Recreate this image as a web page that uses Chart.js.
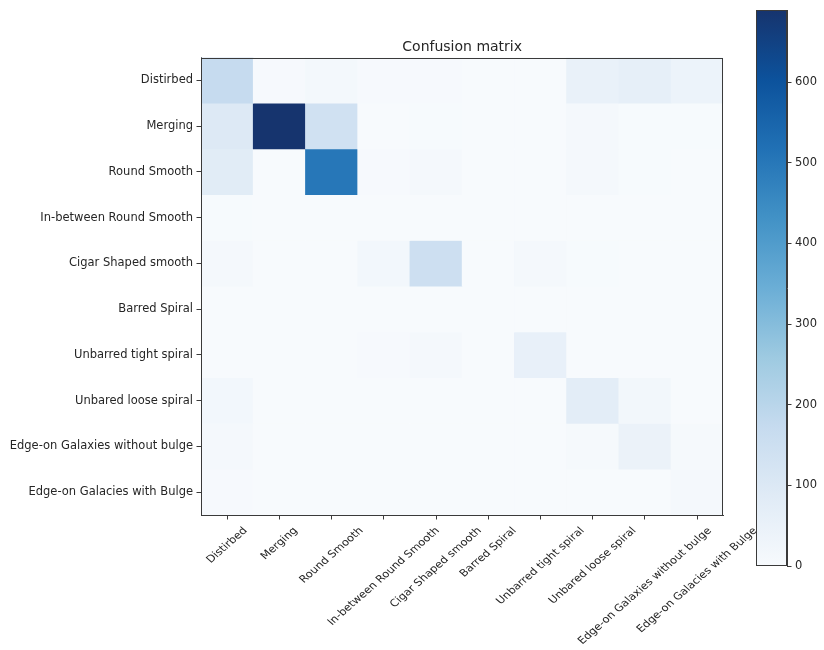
<!DOCTYPE html>
<html>
<head>
<meta charset="utf-8">
<title>Confusion matrix</title>
<script src="https://cdn.jsdelivr.net/npm/chart.js@4.4.1/dist/chart.umd.min.js"></script>
<style>
  html, body { margin: 0; padding: 0; background: #ffffff; }
  #wrap { position: relative; width: 824px; height: 650px; }
  #matrix { position: absolute; left: 0; top: 0; }
  #colorbar { position: absolute; left: 740px; top: 0; }
</style>
</head>
<body>
<div id="wrap">
  <canvas id="matrix" width="824" height="650"></canvas>
  <canvas id="colorbar" width="84" height="650"></canvas>
</div>
<script>
// Class names (true labels on rows, predicted labels on columns)
const classNames = [
  'Distirbed',
  'Merging',
  'Round Smooth',
  'In-between Round Smooth',
  'Cigar Shaped smooth',
  'Barred Spiral',
  'Unbarred tight spiral',
  'Unbared loose spiral',
  'Edge-on Galaxies without bulge',
  'Edge-on Galacies with Bulge'
];

// Counts per true class, one entry per predicted class
const rowDistirbed      = [172,   3,  14,  3,   5, 1,  1, 52, 62, 42];
const rowMerging        = [ 95, 689, 140,  1,   2, 1,  1, 12,  2,  2];
const rowRoundSmooth    = [ 82,   1, 500,  5,  10, 1,  1, 10,  2,  1];
const rowInBetween      = [  2,   0,   1,  0,   1, 0,  0,  1,  0,  0];
const rowCigar          = [ 12,   0,   1, 18, 150, 0, 12,  2,  0,  0];
const rowBarred         = [  0,   0,   0,  0,   0, 0,  0,  0,  0,  0];
const rowTightSpiral    = [  1,   0,   0,  5,  12, 0, 55,  1,  0,  0];
const rowLooseSpiral    = [ 18,   0,   0,  0,   1, 0,  1, 75, 20,  1];
const rowEdgeNoBulge    = [ 12,   0,   0,  0,   0, 0,  0,  8, 45,  8];
const rowEdgeBulge      = [  5,   0,   0,  0,   0, 0,  0,  1,  1, 12];

const counts = [
  rowDistirbed, rowMerging, rowRoundSmooth, rowInBetween, rowCigar,
  rowBarred, rowTightSpiral, rowLooseSpiral, rowEdgeNoBulge, rowEdgeBulge
];

// Colour scale range and colour bar tick values
const colorMax = 689;
const colorbarTicks = [0, 100, 200, 300, 400, 500, 600];

// "Blues" sequential colour ramp
const bluesStops = [
  [247, 250, 253], [224, 235, 246], [198, 219, 239], [158, 202, 225],
  [107, 174, 214], [66, 146, 198], [33, 113, 181], [12, 82, 156], [22, 52, 110]
];

function blues(t) {
  t = Math.max(0, Math.min(1, t));
  const pos = t * (bluesStops.length - 1);
  const i = Math.min(Math.floor(pos), bluesStops.length - 2);
  const f = pos - i;
  const a = bluesStops[i], b = bluesStops[i + 1];
  const c = a.map((v, k) => Math.round(v + (b[k] - v) * f));
  return `rgb(${c[0]},${c[1]},${c[2]})`;
}

const textColor = '#262626';
const axisColor = '#3a3a3a';
const tickFontSize = 11.5;
// Column labels use a slightly smaller face, widened horizontally
const columnFontSize = 10.1;
const columnStretch = 1.14;
Chart.defaults.font.family = "'DejaVu Sans', 'Liberation Sans', sans-serif";
Chart.defaults.color = textColor;

// Box around the plotting area
const framePlugin = {
  id: 'frame',
  afterDatasetsDraw(chart) {
    const { ctx, chartArea: a } = chart;
    ctx.save();
    ctx.strokeStyle = axisColor;
    ctx.lineWidth = 1;
    ctx.strokeRect(Math.round(a.left) + 0.5, Math.round(a.top) + 0.5,
                   Math.round(a.right - a.left) - 1, Math.round(a.bottom - a.top) - 1);
    ctx.restore();
  }
};

// Column labels rotated 45 degrees, each centred under its tick
const columnLabelPlugin = {
  id: 'columnLabels',
  afterDraw(chart) {
    const xs = chart.scales.x;
    const ctx = chart.ctx;
    const lineH = columnFontSize * 1.164;
    const top = chart.chartArea.bottom + 10;
    ctx.save();
    ctx.font = `${columnFontSize}px 'DejaVu Sans', sans-serif`;
    ctx.fillStyle = textColor;
    ctx.textAlign = 'center';
    ctx.textBaseline = 'middle';
    xs.ticks.forEach((t, i) => {
      const label = xs.getLabelForValue(t.value);
      const w = ctx.measureText(label).width;
      const half = (w + lineH) * Math.SQRT1_2 / 2;
      ctx.save();
      ctx.translate(xs.getPixelForTick(i), top + half);
      ctx.scale(columnStretch, 1);
      ctx.rotate(-Math.PI / 4);
      ctx.fillText(label, 0, 0);
      ctx.restore();
    });
    ctx.restore();
  }
};

// One floating-bar dataset per true class: each cell spans its row band
const datasets = counts.map((row, r) => ({
  label: classNames[r],
  data: row.map(() => [r - 0.5, r + 0.5]),
  backgroundColor: row.map(v => blues(v / colorMax)),
  borderWidth: 0,
  grouped: false,
  barPercentage: 1,
  categoryPercentage: 1
}));

new Chart(document.getElementById('matrix'), {
  type: 'bar',
  data: { labels: classNames, datasets },
  options: {
    responsive: false,
    animation: false,
    events: [],
    layout: { padding: { top: 0, left: 0, right: 100.7, bottom: 0 } },
    plugins: {
      legend: { display: false },
      tooltip: { enabled: false },
      title: {
        display: true,
        text: 'Confusion matrix',
        fullSize: false,
        color: textColor,
        font: { size: 14, weight: 'normal', lineHeight: 1.2 },
        padding: { top: 38.6, bottom: 2.1 }
      }
    },
    scales: {
      x: {
        type: 'category',
        offset: true,
        grid: { drawOnChartArea: false, offset: false, tickLength: 4.5, color: axisColor, tickColor: axisColor },
        border: { display: true, color: axisColor },
        ticks: { display: false, autoSkip: false },
        afterFit: s => { s.height = 135; }
      },
      y: {
        type: 'linear',
        reverse: true,
        min: -0.5,
        max: 9.5,
        afterBuildTicks: s => { s.ticks = classNames.map((_, i) => ({ value: i })); },
        afterFit: s => { s.width = 201; },
        grid: { drawOnChartArea: false, tickLength: 4.5, color: axisColor, tickColor: axisColor },
        border: { display: true, color: axisColor },
        ticks: {
          autoSkip: false,
          padding: 3.5,
          color: textColor,
          font: { size: tickFontSize },
          callback: v => classNames[v]
        }
      }
    }
  },
  plugins: [framePlugin, columnLabelPlugin]
});

// Colour bar: one bar spanning the full range, filled with the ramp
new Chart(document.getElementById('colorbar'), {
  type: 'bar',
  data: {
    labels: [''],
    datasets: [{
      data: [[0, colorMax]],
      backgroundColor: (c) => {
        const chart = c.chart;
        if (!chart.chartArea) return 'rgb(247,250,253)';
        const y = chart.scales.y;
        const g = chart.ctx.createLinearGradient(0, y.getPixelForValue(0), 0, y.getPixelForValue(colorMax));
        bluesStops.forEach((s, i) => g.addColorStop(i / (bluesStops.length - 1), `rgb(${s[0]},${s[1]},${s[2]})`));
        return g;
      },
      borderWidth: 0,
      barPercentage: 1,
      categoryPercentage: 1
    }]
  },
  options: {
    responsive: false,
    animation: false,
    events: [],
    layout: { padding: { top: 6, left: 16, right: 0, bottom: 84 } },
    plugins: { legend: { display: false }, tooltip: { enabled: false } },
    scales: {
      x: { display: false },
      y: {
        position: 'right',
        min: 0,
        max: colorMax,
        afterBuildTicks: s => { s.ticks = colorbarTicks.map(v => ({ value: v })); },
        afterFit: s => { s.width = 37; },
        grid: { drawOnChartArea: false, tickLength: 4.5, color: axisColor, tickColor: axisColor },
        border: { display: true, color: axisColor },
        ticks: { padding: 3.5, color: textColor, font: { size: tickFontSize } }
      }
    }
  },
  plugins: [framePlugin]
});
</script>
</body>
</html>
